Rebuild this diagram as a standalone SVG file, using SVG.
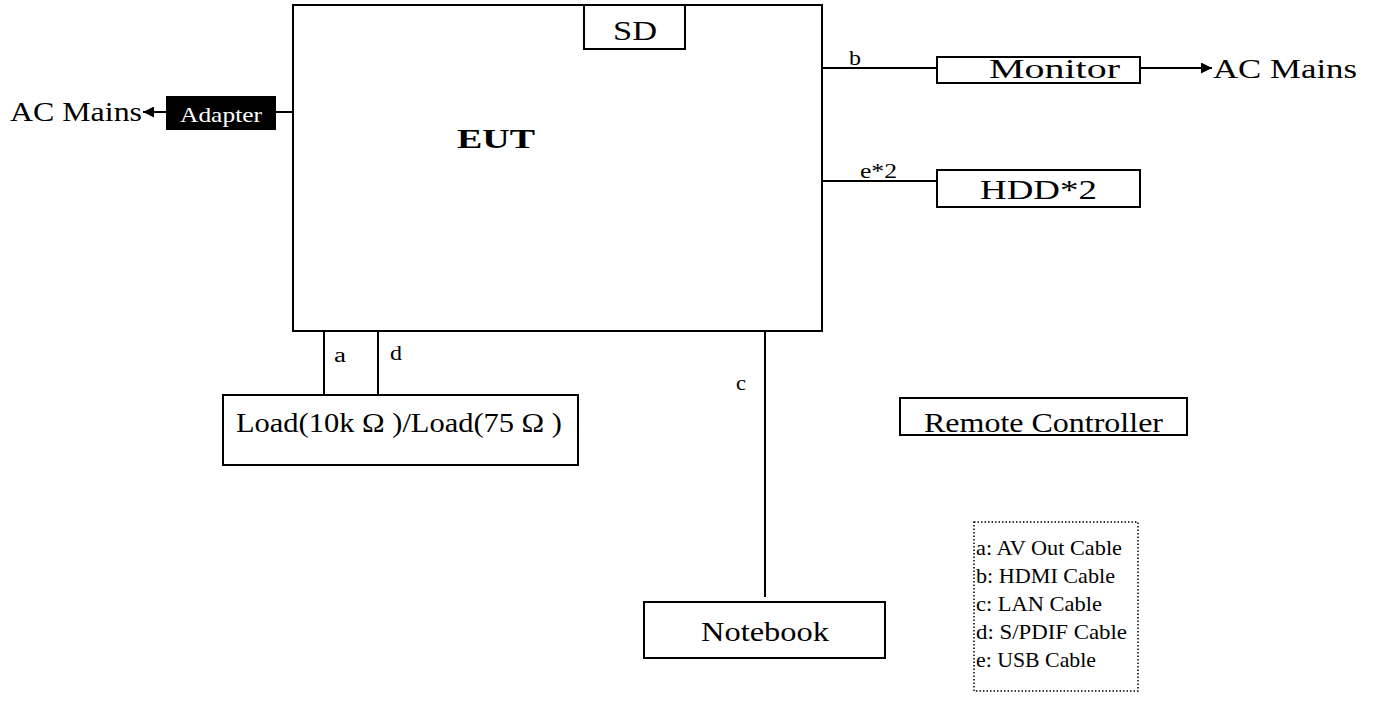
<svg xmlns="http://www.w3.org/2000/svg" width="1378" height="713" viewBox="0 0 1378 713">
<defs>
<style>
.box{fill:#fff;stroke:#000;stroke-width:2}
.t{font-family:"Liberation Serif","Times New Roman",serif;fill:#000}
.big{font-size:28px}
.sm{font-size:20px}
.lg{font-size:21px}
.ln{stroke:#000;stroke-width:2;fill:none}
</style>
<marker id="ah" viewBox="0 0 10 10" refX="10" refY="5" markerWidth="7" markerHeight="5.5" orient="auto" markerUnits="strokeWidth">
<path d="M0,0 L10,5 L0,10 z" fill="#000"/>
</marker>
</defs>
<rect width="1378" height="713" fill="#fff"/>
<g id="connectors">
<line class="ln" x1="276" y1="112" x2="293" y2="112"/>
<line class="ln" x1="166" y1="112" x2="143" y2="112" marker-end="url(#ah)"/>
<line class="ln" x1="822" y1="68" x2="937" y2="68"/>
<line class="ln" x1="1140" y1="68" x2="1212" y2="68" marker-end="url(#ah)"/>
<line class="ln" x1="822" y1="181" x2="937" y2="181"/>
<line class="ln" x1="324" y1="331" x2="324" y2="395"/>
<line class="ln" x1="378" y1="331" x2="378" y2="395"/>
<line class="ln" x1="765" y1="331" x2="765" y2="597"/>
<text class="t sm" x="849" y="65" textLength="12" lengthAdjust="spacingAndGlyphs">b</text>
<text class="t sm" x="860" y="178" textLength="37" lengthAdjust="spacingAndGlyphs">e*2</text>
<text class="t sm" x="334" y="362" textLength="12" lengthAdjust="spacingAndGlyphs">a</text>
<text class="t sm" x="390" y="360" textLength="12" lengthAdjust="spacingAndGlyphs">d</text>
<text class="t sm" x="736" y="390" textLength="10" lengthAdjust="spacingAndGlyphs">c</text>
</g>
<g id="eut">
<rect class="box" x="293" y="5" width="529" height="326"/>
<text class="t big" x="457" y="148" font-weight="bold" textLength="78" lengthAdjust="spacingAndGlyphs">EUT</text>
</g>
<g id="sd">
<rect class="box" x="584" y="5" width="101" height="44"/>
<text class="t big" x="613" y="40" textLength="44" lengthAdjust="spacingAndGlyphs">SD</text>
</g>
<g id="adapter">
<rect x="166" y="96" width="110" height="34" fill="#000"/>
<text class="t" x="180" y="122" font-size="22" style="fill:#fff" textLength="82" lengthAdjust="spacingAndGlyphs">Adapter</text>
</g>
<g id="ac-left">
<text class="t big" x="10" y="121" textLength="132" lengthAdjust="spacingAndGlyphs">AC Mains</text>
</g>
<g id="monitor">
<rect class="box" x="937" y="57" width="203" height="26"/>
<text class="t big" x="989" y="78" textLength="131" lengthAdjust="spacingAndGlyphs">Monitor</text>
</g>
<g id="ac-right">
<text class="t big" x="1213" y="78" textLength="144" lengthAdjust="spacingAndGlyphs">AC Mains</text>
</g>
<g id="hdd">
<rect class="box" x="937" y="170" width="203" height="37"/>
<text class="t big" x="980" y="199" textLength="117" lengthAdjust="spacingAndGlyphs">HDD*2</text>
</g>
<g id="load">
<rect class="box" x="223" y="395" width="355" height="70"/>
<text class="t big" x="236" y="432" textLength="326" lengthAdjust="spacingAndGlyphs">Load(10k Ω )/Load(75 Ω )</text>
</g>
<g id="remote">
<rect class="box" x="900" y="398" width="287" height="37"/>
<text class="t big" x="924" y="432" textLength="239" lengthAdjust="spacingAndGlyphs">Remote Controller</text>
</g>
<g id="notebook">
<rect class="box" x="644" y="602" width="241" height="56"/>
<text class="t big" x="701" y="641" textLength="128" lengthAdjust="spacingAndGlyphs">Notebook</text>
</g>
<g id="legend">
<rect x="974" y="522" width="164" height="169" fill="none" stroke="#000" stroke-width="1.5" stroke-dasharray="1.5,2"/>
<text class="t lg" x="976" y="555" textLength="146" lengthAdjust="spacingAndGlyphs">a: AV Out Cable</text>
<text class="t lg" x="976" y="583" textLength="139" lengthAdjust="spacingAndGlyphs">b: HDMI Cable</text>
<text class="t lg" x="976" y="611" textLength="126" lengthAdjust="spacingAndGlyphs">c: LAN Cable</text>
<text class="t lg" x="976" y="639" textLength="151" lengthAdjust="spacingAndGlyphs">d: S/PDIF Cable</text>
<text class="t lg" x="976" y="667" textLength="120" lengthAdjust="spacingAndGlyphs">e: USB Cable</text>
</g>
</svg>
